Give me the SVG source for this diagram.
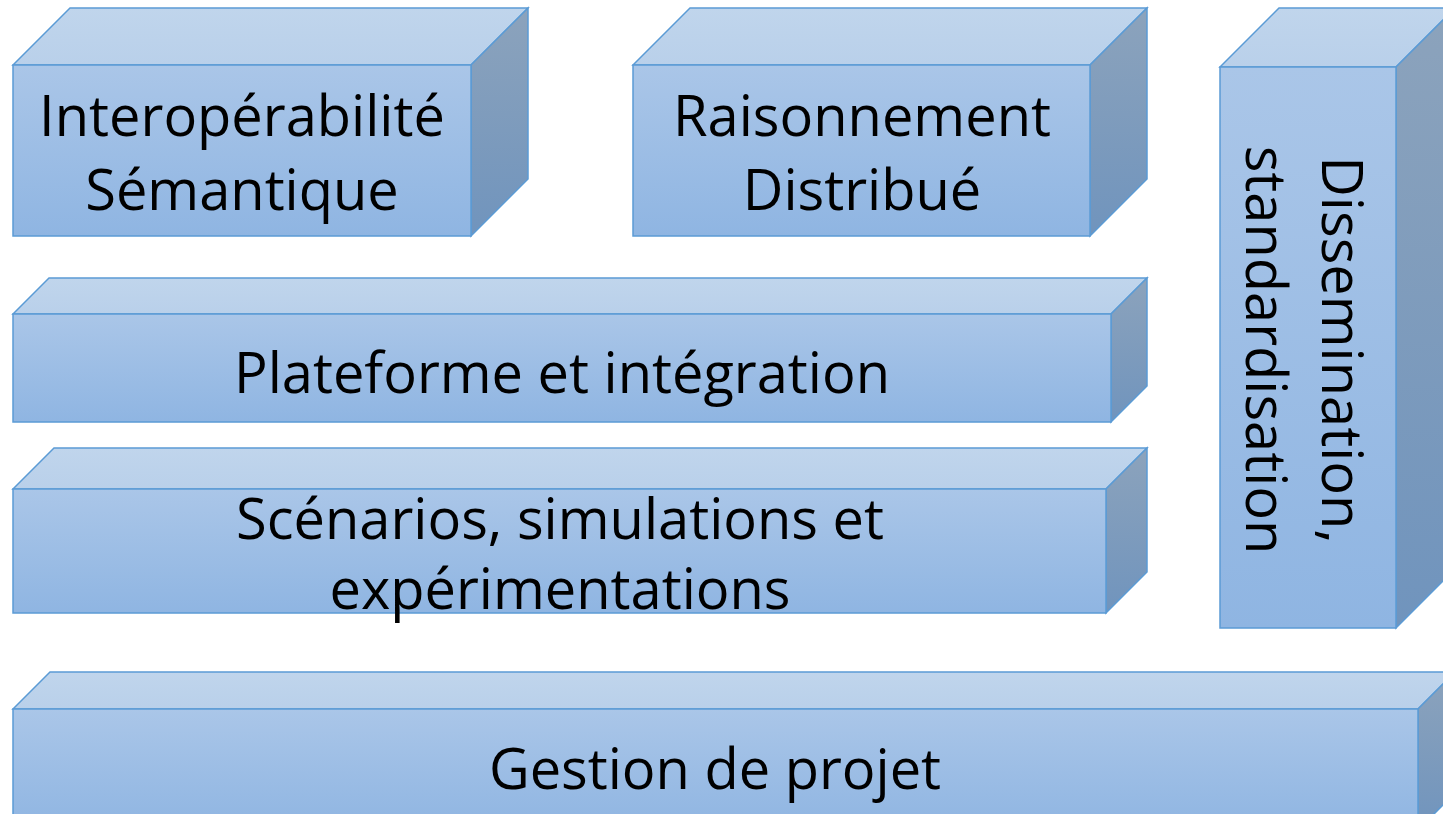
<svg xmlns="http://www.w3.org/2000/svg" width="1443" height="814" viewBox="0 0 1443 814">
  <defs>
    <linearGradient id="gFront" x1="0" y1="0" x2="0" y2="1">
      <stop offset="0" stop-color="#aac6e8"/>
      <stop offset="1" stop-color="#8fb5e2"/>
    </linearGradient>
    <linearGradient id="gTop" x1="0" y1="0" x2="0" y2="1">
      <stop offset="0" stop-color="#c0d5ec"/>
      <stop offset="1" stop-color="#b9d0ea"/>
    </linearGradient>
    <linearGradient id="gSide" x1="0" y1="0" x2="0" y2="1">
      <stop offset="0" stop-color="#8ca3bc"/>
      <stop offset="1" stop-color="#7094bd"/>
    </linearGradient>
  </defs>
  <style>
    .front { fill: url(#gFront); stroke: #5b9bd5; stroke-width: 1.5; }
    .top { fill: url(#gTop); stroke: #5b9bd5; stroke-width: 1.5; stroke-linejoin: miter; }
    .side { fill: url(#gSide); stroke: #5b9bd5; stroke-width: 1.5; stroke-linejoin: miter; }
    .lbl { font-family: "Open Sans", "Noto Sans", sans-serif; font-size: 56px; fill: #000000; text-anchor: middle; }
  </style>
  <rect width="1443" height="814" fill="#ffffff"/>

  <g id="node-interoperabilite">
    <polygon class="top" points="13,65 70,8 528,8 471,65"/>
    <polygon class="side" points="471,65 528,8 528,179 471,236"/>
    <rect class="front" x="13" y="65" width="458" height="171"/>
    <text class="lbl" x="242" y="136">Interopérabilité</text>
    <text class="lbl" x="242" y="210">Sémantique</text>
  </g>

  <g id="node-raisonnement">
    <polygon class="top" points="633,65 690,8 1147,8 1090,65"/>
    <polygon class="side" points="1090,65 1147,8 1147,179 1090,236"/>
    <rect class="front" x="633" y="65" width="457" height="171"/>
    <text class="lbl" x="862" y="136">Raisonnement</text>
    <text class="lbl" x="862" y="210">Distribué</text>
  </g>

  <g id="node-plateforme">
    <polygon class="top" points="13,314 49,278 1147,278 1111,314"/>
    <polygon class="side" points="1111,314 1147,278 1147,386 1111,422"/>
    <rect class="front" x="13" y="314" width="1098" height="108"/>
    <text class="lbl" x="562" y="393">Plateforme et intégration</text>
  </g>

  <g id="node-scenarios">
    <polygon class="top" points="13,489 54,448 1147,448 1106,489"/>
    <polygon class="side" points="1106,489 1147,448 1147,572 1106,613"/>
    <rect class="front" x="13" y="489" width="1093" height="124"/>
    <text class="lbl" x="560" y="539">Scénarios, simulations et</text>
    <text class="lbl" x="560" y="609">expérimentations</text>
  </g>

  <g id="node-dissemination">
    <polygon class="top" points="1220,67 1279,8 1455,8 1396,67"/>
    <polygon class="side" points="1396,67 1455,8 1455,569 1396,628"/>
    <rect class="front" x="1220" y="67" width="176" height="561"/>
    <g transform="translate(1307,350) rotate(90)">
      <text class="lbl" x="0" y="-15">Dissemination,</text>
      <text class="lbl" x="0" y="61">standardisation</text>
    </g>
  </g>

  <g id="node-gestion">
    <polygon class="top" points="13,709 50,672 1455,672 1418,709"/>
    <polygon class="side" points="1418,709 1455,672 1455,793 1418,830"/>
    <rect class="front" x="13" y="709" width="1405" height="121"/>
    <text class="lbl" x="715" y="789">Gestion de projet</text>
  </g>

  <g id="connectors"/>
</svg>
